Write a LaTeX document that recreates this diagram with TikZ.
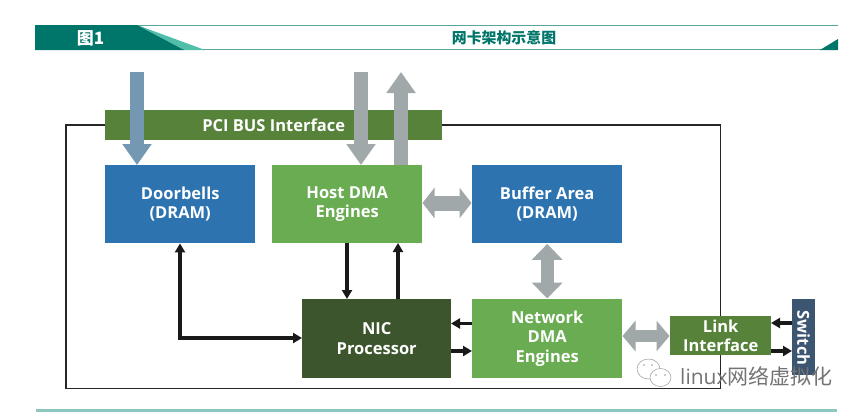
\documentclass[tikz,border=0pt]{standalone}
\usepackage{fontspec}
\setmainfont{Open Sans}
\newfontfamily\cjkfont{Noto Sans CJK SC}
\usetikzlibrary{arrows.meta,calc,positioning}
\definecolor{headTeal}{RGB}{0,117,105}
\definecolor{headLight}{RGB}{80,190,168}
\definecolor{headLine}{RGB}{90,165,155}
\definecolor{barTeal}{RGB}{140,200,192}
\definecolor{busGreen}{RGB}{86,130,57}
\definecolor{dmaGreen}{RGB}{106,172,82}
\definecolor{nicGreen}{RGB}{60,85,45}
\definecolor{memBlue}{RGB}{44,115,176}
\definecolor{swBlue}{RGB}{60,85,112}
\definecolor{arrGrey}{RGB}{160,168,170}
\definecolor{arrBlue}{RGB}{116,151,178}

\tikzset{
  x=1pt,y=-1pt,
  block/.style={anchor=north west,inner sep=0pt,align=center,text=white,font=\bfseries\fontsize{16.5}{19.5}\selectfont},
  bigarrow/.style={line width=14pt,arrGrey,-{Triangle[length=21pt,width=28pt]}},
  bigboth/.style 2 args={line width=#1,arrGrey,{Triangle[length=#2,width=30pt]}-{Triangle[length=#2,width=30pt]},shorten >=.5pt,shorten <=.5pt},
  thinarrow/.style={line width=3.2pt,black!90,-{Triangle[length=9pt,width=10pt]}},
  bubble/.style={fill=white,draw=black!40,line width=.5pt},
  eye/.style={fill=black!40}
}

\begin{document}
\begin{tikzpicture}
  \useasboundingbox (0,0) rectangle (858,413);

  % header strip
  \draw[headLine,line width=1pt] (35,25.5) -- (838,25.5);
  \draw[headLine,line width=1pt] (35,49.5) -- (838,49.5);
  \fill[headLight] (137,25) -- (205,50) -- (184,50) -- cycle;
  \fill[headTeal] (35,25) -- (137,25) -- (184,50) -- (35,50) -- cycle;
  \fill[headTeal] (820,50) -- (838,39) -- (838,50) -- cycle;
  \node[text=white,font=\cjkfont\bfseries\fontsize{17}{17}\selectfont] (figno) at (90.5,38) {图1};
  \node[text=headTeal,font=\cjkfont\bfseries\fontsize{14.9}{15}\selectfont] (title) at (504,37.5) {网卡架构示意图};
  \fill[barTeal] (36,409) rectangle (837,412);

  % the card
  \draw[line width=1.2pt,black!85] (66,125) rectangle (720.5,388.5);

  % the blocks
  \node[block,fill=busGreen,minimum width=337pt,minimum height=30pt] (bus) at (105,110) {PCI BUS Interface};
  \node[block,fill=memBlue,minimum width=150pt,minimum height=78pt] (doorbells) at (105,165) {Doorbells\\(DRAM)};
  \node[block,fill=dmaGreen,minimum width=150pt,minimum height=78pt] (hostdma) at (272,165) {Host DMA\\Engines};
  \node[block,fill=memBlue,minimum width=150pt,minimum height=78pt] (buffer) at (472,165) {Buffer Area\\(DRAM)};
  \node[block,fill=nicGreen,minimum width=149pt,minimum height=79pt] (nic) at (302,299) {NIC\\Processor};
  \node[block,fill=dmaGreen,minimum width=150pt,minimum height=79pt] (netdma) at (472,299) {Network\\DMA\\Engines};
  \node[block,fill=busGreen,minimum width=101pt,minimum height=39pt] (link) at (670,316) {Link\\Interface};
  \node[block,fill=swBlue,minimum width=23pt,minimum height=76pt] (switch) at (792,299) {};
  \node[text=white,rotate=-90,font=\bfseries\fontsize{16.5}{19}\selectfont] (switchtext) at (803.5,338) {Switch};

  % big arrows from outside
  \coordinate (doorin) at (137,72);
  \coordinate (hostin) at (361,72);
  \coordinate (hostout) at (401,72);
  \draw[bigarrow,arrBlue] (doorin) -- (doorin |- doorbells.north);
  \draw[bigarrow] (hostin) -- (hostin |- hostdma.north);
  \draw[bigarrow] (hostout |- hostdma.north) -- (hostout);

  % big double arrows
  \coordinate (hostside) at (422,203);
  \coordinate (netside) at (622,336);
  \draw[bigboth={15pt}{12pt}] (hostside) -- (hostside -| buffer.west);
  \draw[bigboth={13pt}{16pt}] (buffer.south) -- (netdma.north);
  \draw[bigboth={12pt}{13pt}] (netside) -- (netside -| link.west);

  % thin arrows
  \coordinate (hostdown) at (347,243);
  \coordinate (hostup) at (398,243);
  \coordinate (nicleft) at (180,338);
  \coordinate (niceast1) at (451,323.5);
  \coordinate (niceast2) at (451,351);
  \coordinate (linkeast1) at (771,323);
  \coordinate (linkeast2) at (771,351);
  \draw[thinarrow] (hostdown) -- (hostdown |- nic.north);
  \draw[thinarrow] (hostup |- nic.north) -- (hostup);
  \draw[thinarrow,{Triangle[length=9pt,width=10pt]}-{Triangle[length=9pt,width=10pt]}] (nicleft |- doorbells.south) -- (nicleft) -- (nic.west |- nicleft);
  \draw[thinarrow] (niceast1 -| netdma.west) -- (niceast1);
  \draw[thinarrow] (niceast2) -- (niceast2 -| netdma.west);
  \draw[thinarrow] (linkeast1 -| switch.west) -- (linkeast1);
  \draw[thinarrow] (linkeast2) -- (linkeast2 -| switch.west);

  % watermark
  \filldraw[bubble] (648.5,369) ellipse (11.5 and 10);
  \filldraw[bubble] (660.5,377.5) ellipse (10.5 and 9);
  \foreach \ex/\ey in {644/365,652/365,656/375,665/375}
    \fill[eye] (\ex,\ey) circle (.9);
  \node[text=black!55,font=\fontsize{21}{21}\selectfont,anchor=west,inner sep=0pt] (mark) at (680,376) {linux{\cjkfont 网络虚拟化}};
\end{tikzpicture}
\end{document}
